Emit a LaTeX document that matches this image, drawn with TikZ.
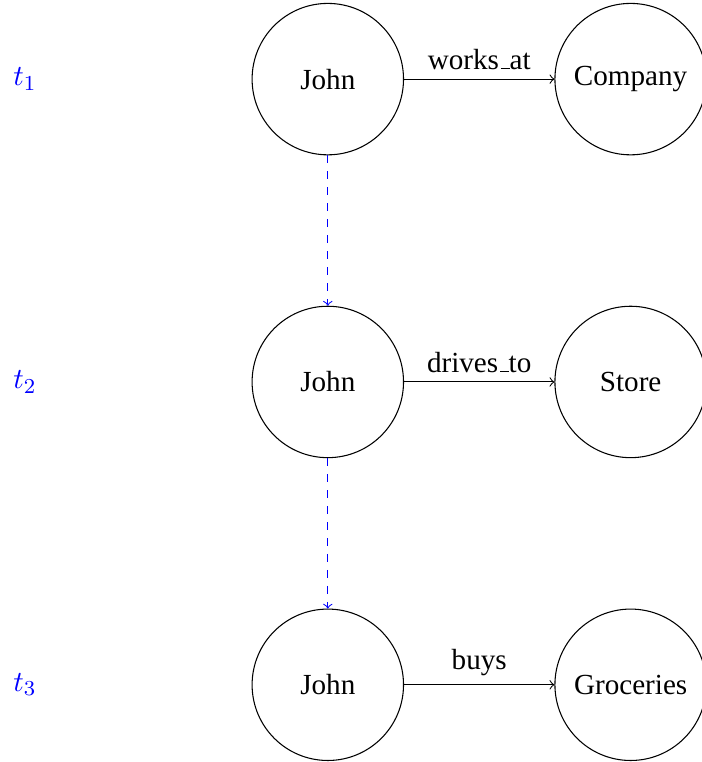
\documentclass[tikz,border=0pt]{standalone}
\usepackage{fontspec}
\setmainfont{Liberation Serif}
% low underscore drawn as a short rule on the baseline
\newcommand{\lowbar}{\leavevmode\kern.06em\vbox{\hrule width.3em}}
\begin{document}
\begin{tikzpicture}[
  font=\fontsize{10.95}{13.6}\selectfont,
  entity/.style={circle, draw, minimum size=2cm, inner sep=0pt},
  relation/.style={->},
  timelink/.style={->, dashed, blue},
  timestamp/.style={text=blue}
]
\useasboundingbox (-4.33,1.045) rectangle (4.93,-9.02);

% time step 1
\node[entity] (j1) at (0,0) {John};
\node[entity] (c1) at (4,0) {Company};
\node[timestamp] (t1) at (-4,0) {$t_1$};
\draw[relation] (j1) -- node[above] (l1) {works\lowbar at} (c1);

% time step 2
\node[entity] (j2) at (0,-4) {John};
\node[entity] (c2) at (4,-4) {Store};
\node[timestamp] (t2) at (-4,-4) {$t_2$};
\draw[relation] (j2) -- node[above] (l2) {drives\lowbar to} (c2);

% time step 3
\node[entity] (j3) at (0,-8) {John};
\node[entity] (c3) at (4,-8) {Groceries};
\node[timestamp] (t3) at (-4,-8) {$t_3$};
\draw[relation] (j3) -- node[above] (l3) {buys} (c3);

% links between consecutive states
\draw[timelink] (j1) -- (j2);
\draw[timelink] (j2) -- (j3);
\end{tikzpicture}
\end{document}
